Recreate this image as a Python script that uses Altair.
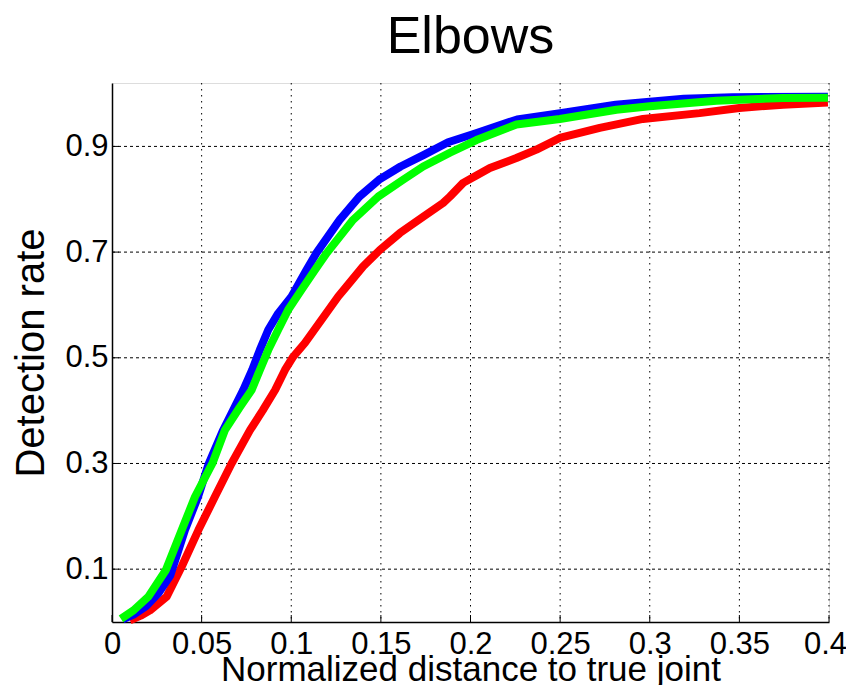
import altair as alt
import pandas as pd

# ---- data ----
x_ticks = [0, 0.05, 0.1, 0.15, 0.2, 0.25, 0.3, 0.35, 0.4]
y_ticks = [0.1, 0.3, 0.5, 0.7, 0.9]

red_x = [0.010, 0.016, 0.0212, 0.0305, 0.0389, 0.0482, 0.0574, 0.0667, 0.077, 0.084,
         0.091, 0.0965, 0.1011, 0.1076, 0.1169, 0.1262, 0.1309, 0.1401, 0.1494, 0.1606,
         0.1736, 0.1847, 0.1885, 0.1959, 0.2033, 0.2108, 0.2256, 0.2368, 0.2498, 0.2721,
         0.2962, 0.3278, 0.35, 0.3743, 0.3994]
red_y = [0.003, 0.012, 0.022, 0.048, 0.105, 0.174, 0.237, 0.300, 0.363, 0.400,
         0.439, 0.477, 0.502, 0.528, 0.572, 0.616, 0.635, 0.673, 0.704, 0.736,
         0.767, 0.793, 0.805, 0.831, 0.845, 0.859, 0.878, 0.894, 0.916, 0.935,
         0.952, 0.963, 0.9727, 0.979, 0.983]

blue_x = [0.006, 0.012, 0.019, 0.026, 0.0325, 0.0407, 0.048, 0.054, 0.062, 0.0732,
          0.0782, 0.0825, 0.0872, 0.0927, 0.1002, 0.1085, 0.114, 0.127, 0.138, 0.149,
          0.161, 0.174, 0.1875, 0.203, 0.226, 0.250, 0.281, 0.319, 0.346, 0.3994]
blue_y = [0.005, 0.014, 0.030, 0.055, 0.088, 0.174, 0.237, 0.300, 0.363, 0.439,
          0.477, 0.515, 0.553, 0.584, 0.616, 0.666, 0.698, 0.761, 0.805, 0.837,
          0.862, 0.884, 0.908, 0.925, 0.951, 0.963, 0.979, 0.990, 0.993, 0.994]

green_x = [0.005, 0.012, 0.0203, 0.0300, 0.0389, 0.0463, 0.056, 0.063, 0.071, 0.0779,
           0.0825, 0.0872, 0.0927, 0.0983, 0.1058, 0.1132, 0.1197, 0.1345, 0.1485,
           0.1624, 0.1736, 0.1885, 0.2033, 0.2256, 0.2498, 0.2814, 0.300, 0.3372,
           0.3743, 0.3994]
green_y = [0.006, 0.022, 0.048, 0.098, 0.174, 0.237, 0.300, 0.363, 0.405, 0.439,
           0.477, 0.515, 0.553, 0.591, 0.629, 0.666, 0.698, 0.761, 0.805,
           0.837, 0.862, 0.888, 0.912, 0.9415, 0.952, 0.9695, 0.976, 0.9866,
           0.9917, 0.992]

series = [("red", red_x, red_y), ("blue", blue_x, blue_y), ("green", green_x, green_y)]
colors = {"red": "#ff0000", "blue": "#0000ff", "green": "#00ff00"}

rows = []
for name, xs, ys in series:
    for i, (xv, yv) in enumerate(zip(xs, ys)):
        rows.append({"series": name, "x": xv, "y": yv, "i": i})
df = pd.DataFrame(rows)

W, H = 717, 539
FONT = "Liberation Sans"

xscale = alt.Scale(domain=[0, 0.4], nice=False, zero=False)
yscale = alt.Scale(domain=[0, 1.02], nice=False, zero=False)

grid_x = alt.Chart(pd.DataFrame({"x": x_ticks[1:]})).mark_rule(
    color="black", strokeWidth=1, strokeDash=[1.5, 4.5]
).encode(x=alt.X("x:Q", scale=xscale), y=alt.value(0), y2=alt.value(H))

grid_y = alt.Chart(pd.DataFrame({"y": y_ticks})).mark_rule(
    color="black", strokeWidth=1, strokeDash=[3, 3]
).encode(y=alt.Y("y:Q", scale=yscale), x=alt.value(0), x2=alt.value(W))

tick_x = alt.Chart(pd.DataFrame({"x": x_ticks})).mark_rule(
    color="black", strokeWidth=1
).encode(x=alt.X("x:Q", scale=xscale), y=alt.value(H), y2=alt.value(H - 7))

tick_y = alt.Chart(pd.DataFrame({"y": y_ticks})).mark_rule(
    color="black", strokeWidth=1
).encode(y=alt.Y("y:Q", scale=yscale), x=alt.value(0), x2=alt.value(7))

lines = alt.Chart(df).mark_line(strokeWidth=8, strokeJoin="round", strokeCap="butt").encode(
    x=alt.X("x:Q", scale=xscale,
            axis=alt.Axis(values=x_ticks, format="~g", grid=False, ticks=False, tickSize=0,
                          labelFontSize=31, labelFont=FONT, labelColor="black",
                          labelPadding=7, labelOverlap=False, labelFlush=False,
                          labelOffset={"condition": {"test": "datum.value >= 0.4", "value": -4},
                                       "value": 0},
                          domainColor="black", domainWidth=1.5,
                          title="Normalized distance to true joint", titleFont=FONT,
                          titleFontSize=35, titleFontWeight="normal", titleColor="black",
                          titleBaseline="alphabetic", titleY=58)),
    y=alt.Y("y:Q", scale=yscale,
            axis=alt.Axis(values=y_ticks, format="~g", grid=False, ticks=False, tickSize=0,
                          labelFontSize=31, labelFont=FONT, labelColor="black",
                          labelPadding=4, labelOverlap=False, labelFlush=False,
                          domainColor="black", domainWidth=1.5,
                          title="Detection rate", titleFont=FONT, titleFontSize=40,
                          titleFontWeight="normal", titleColor="black",
                          titleBaseline="alphabetic", titleX=-69, titleY=H / 2,
                          titleAngle=-90, titleAlign="center")),
    color=alt.Color("series:N",
                    scale=alt.Scale(domain=list(colors.keys()), range=list(colors.values())),
                    legend=None),
    order=alt.Order("i:Q"),
    detail="series:N",
)

layers = [grid_x, grid_y, tick_x, tick_y]
for name, _, _ in series:
    layers.append(lines.transform_filter(alt.datum.series == name))

chart = alt.layer(*layers).properties(
    width=W, height=H,
    title=alt.TitleParams("Elbows", font=FONT, fontSize=52, fontWeight="normal",
                          color="black", anchor="middle", offset=19),
    autosize=alt.AutoSizeParams(type="none"),
    padding={"left": 104, "top": 75, "right": 17, "bottom": 63},
).configure_view(stroke=None).configure(background="white")

chart.save("out.html", embed_options={"renderer": "svg", "actions": False})
